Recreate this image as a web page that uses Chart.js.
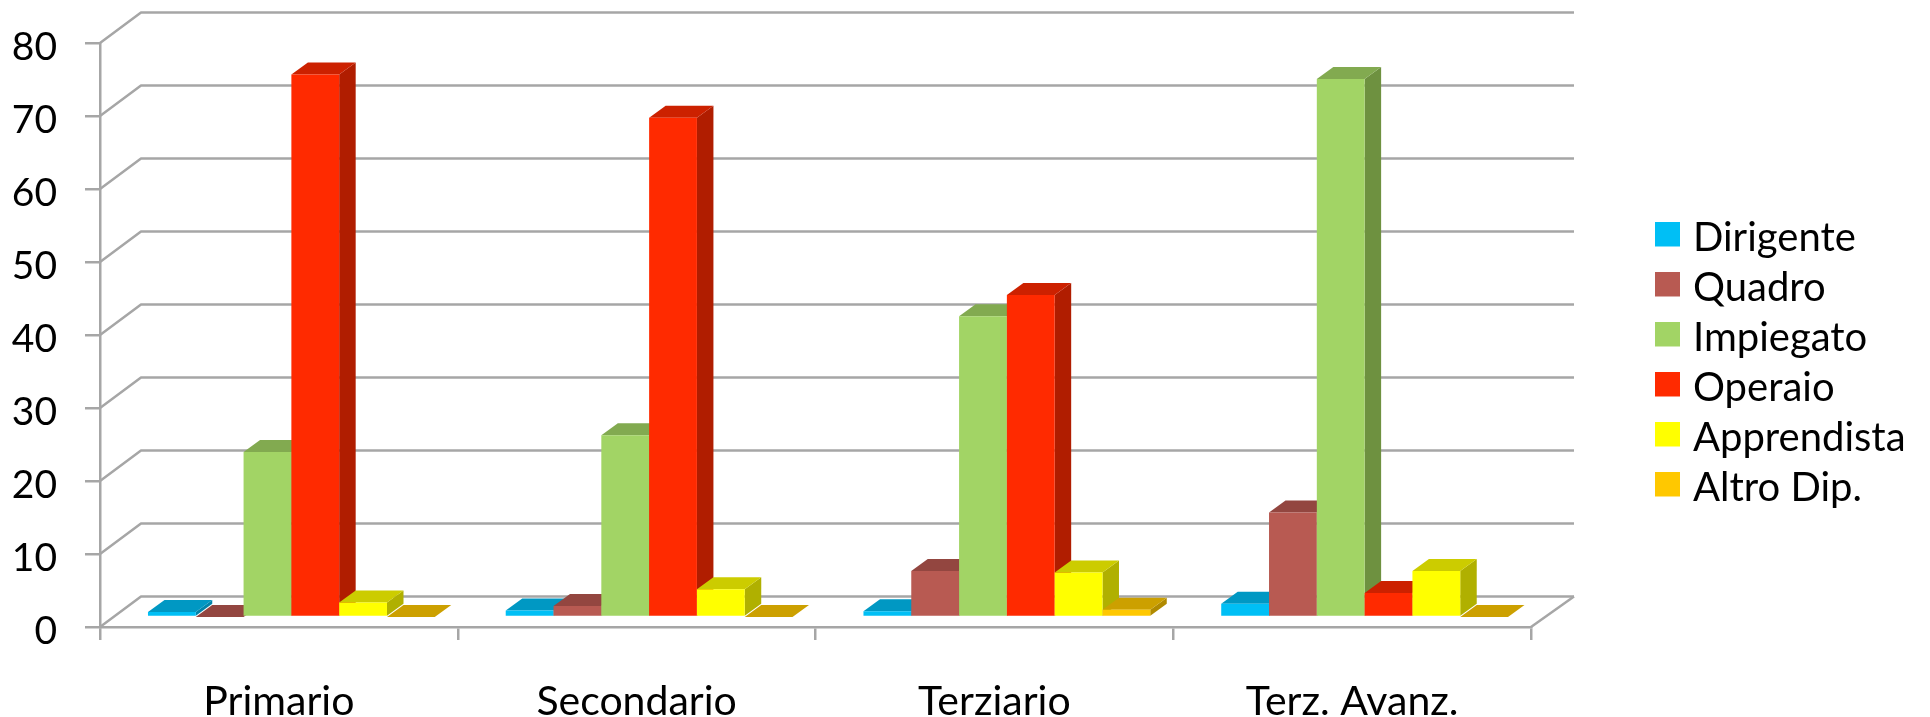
<!DOCTYPE html>
<html><head><meta charset="utf-8">
<style>html,body{margin:0;padding:0;background:#fff}canvas{display:block}</style>
<script src="https://cdn.jsdelivr.net/npm/chart.js@4"></script>
</head><body><canvas id="c" width="1930" height="717"></canvas>
<script>
const categories = ['Primario','Secondario','Terziario','Terz. Avanz.'];
const seriesNames = ['Dirigente','Quadro','Impiegato','Operaio','Apprendista','Altro Dip.'];
const dirigente   = [0.7, 0.9, 0.8, 1.8];
const quadro      = [0, 1.5, 6.3, 14.3];
const impiegato   = [22.6, 24.9, 41.2, 73.7];
const operaio     = [74.3, 68.4, 44.1, 3.3];
const apprendista = [2.0, 3.8, 6.1, 6.3];
const altro       = [0, 0, 1.0, 0];
const seriesValues = [dirigente, quadro, impiegato, operaio, apprendista, altro];
const frontColors = ['#00BFF5','#B85A52','#A2D465','#FF2A00','#FFFF00','#FFC800'];
const topColors   = ['#0098C3','#934640','#82AA50','#CC2100','#CCCC00','#CCA000'];
const sideColors  = ['#0084AA','#7F3D38','#6E9140','#B01D00','#B0B000','#B08A00'];
const GRID = '#A6A6A6';
const FONT = 'Lato';
const wall = {dx:41, dy:-30.5}, floorShift = {dx:12.5, dy:-10}, depth = {dx:16.5, dy:-12};

function swatch(color){
  const s = document.createElement('canvas'); s.width = 25; s.height = 33;
  const g = s.getContext('2d'); g.fillStyle = color; g.fillRect(0,0,25,25);
  return s;
}
const scene3d = {
  id:'scene3d',
  afterLayout(chart){
    const l = chart.legend;
    l.left = 1651; l.right = 1930; l.top = 208; l.bottom = 540;
  },
  beforeDatasetsDraw(chart){
    const ctx = chart.ctx, y = chart.scales.y, a = chart.chartArea;
    ctx.save();
    ctx.strokeStyle = GRID; ctx.lineWidth = 2.5; ctx.lineJoin = 'round';
    y.ticks.forEach(t => {
      const py = y.getPixelForValue(t.value);
      ctx.beginPath();
      ctx.moveTo(a.left, py);
      ctx.lineTo(a.left + wall.dx, py + wall.dy);
      ctx.lineTo(a.right + wall.dx + 2, py + wall.dy);
      ctx.stroke();
    });
    const py0 = y.getPixelForValue(0);
    ctx.beginPath();
    ctx.moveTo(a.right, py0);
    ctx.lineTo(a.right + wall.dx + 2, py0 + wall.dy);
    ctx.stroke();
    ctx.translate(floorShift.dx, floorShift.dy);
    chart.data.datasets.forEach((ds, i) => {
      chart.getDatasetMeta(i).data.forEach(bar => {
        const p = bar.getProps(['x','y','base','width'], true);
        const l = p.x - p.width/2, r = p.x + p.width/2;
        ctx.fillStyle = sideColors[i];
        ctx.beginPath();
        ctx.moveTo(r, p.y); ctx.lineTo(r + depth.dx, p.y + depth.dy);
        ctx.lineTo(r + depth.dx, p.base + depth.dy); ctx.lineTo(r, p.base);
        ctx.closePath(); ctx.fill();
        ctx.fillStyle = topColors[i];
        ctx.beginPath();
        ctx.moveTo(l, p.y); ctx.lineTo(l + depth.dx, p.y + depth.dy);
        ctx.lineTo(r + depth.dx, p.y + depth.dy); ctx.lineTo(r, p.y);
        ctx.closePath(); ctx.fill();
        bar.draw(ctx);
      });
    });
    ctx.restore();
    return false;
  }
};
new Chart(document.getElementById('c'), {
  type:'bar',
  data:{
    labels:categories,
    datasets:seriesNames.map((n,i)=>({label:n,data:seriesValues[i],backgroundColor:frontColors[i],borderWidth:0}))
  },
  plugins:[scene3d],
  options:{
    responsive:false, animation:false, devicePixelRatio:1,
    layout:{autoPadding:false,padding:{left:0,right:399,top:43,bottom:0}},
    categoryPercentage:0.8017, barPercentage:1,
    plugins:{
      tooltip:{enabled:false},
      legend:{
        position:'chartArea', align:'start',
        labels:{
          color:'#000', font:{family:FONT,size:40,lineHeight:1.2}, padding:10,
          usePointStyle:true, pointStyleWidth:12, boxHeight:25,
          generateLabels:ch=>ch.data.datasets.map((d,i)=>({text:d.label,fontColor:'#000',fillStyle:frontColors[i],strokeStyle:frontColors[i],lineWidth:0,pointStyle:swatch(frontColors[i]),datasetIndex:i}))
        }
      }
    },
    scales:{
      x:{
        offset:true,
        afterFit(s){s.height=90;},
        grid:{display:true,drawOnChartArea:false,drawTicks:true,tickLength:13,color:GRID,lineWidth:2.5,offset:true},
        border:{color:GRID,width:2.5},
        ticks:{color:'#000',font:{family:FONT,size:41},padding:37,maxRotation:0,autoSkip:false}
      },
      y:{
        min:0,max:80,
        afterFit(s){s.width=100;s.paddingTop=0;s.paddingBottom=0;},
        grid:{display:true,drawOnChartArea:false,drawTicks:true,tickLength:15,color:GRID,lineWidth:2.5},
        border:{color:GRID,width:2.5},
        ticks:{stepSize:10,color:'#000',font:{family:FONT,size:39},padding:28,labelOffset:4}
      }
    }
  }
});
</script></body></html>
